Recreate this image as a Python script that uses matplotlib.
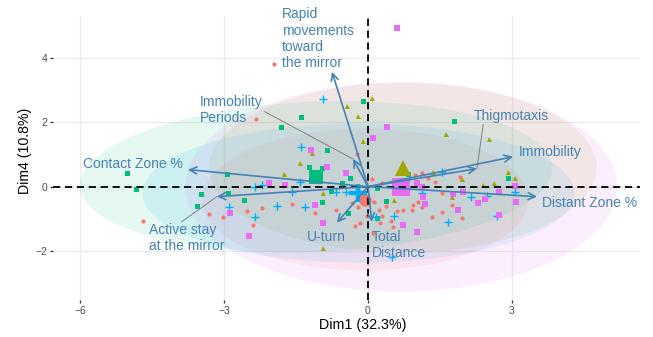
import matplotlib
matplotlib.use("Agg")
import matplotlib.pyplot as plt
from matplotlib.patches import Ellipse

plt.rcParams['font.family'] = ['Liberation Sans', 'DejaVu Sans']

# ---------------- data ----------------
groups = ["red", "olive", "green", "blue", "magenta"]
group_colors = {"red": "#F8766D", "olive": "#A3A500", "green": "#00BF7D",
                "blue": "#00B0F6", "magenta": "#E76BF3"}

red_x = [-1.96, -2.33, -4.69, -3.31, -3.02, -2.52, -2.21, -2.40, -1.58, -1.10, -0.67, -0.27,
         -0.33, -0.17, -0.21, 0.13, -0.02, 0.23, 0.29, 0.48, 0.38, 0.60, -0.23, 0.08, 0.29,
         0.73, 0.98, 1.13, 0.92, 1.13, 1.33, 1.25, 1.04, 0.52, 0.10, 1.54, 1.75, 1.96, 1.92,
         1.54, 0.94, 0.25, 1.40]
red_y = [3.82, 2.11, -1.06, -0.84, -0.93, -0.75, -0.65, -1.18, -0.53, -0.81, -0.71, -1.21,
         -0.50, -1.12, -0.62, -0.47, -0.90, -0.71, -0.90, -1.06, -0.59, -0.75, 1.03, 0.25, 0.12,
         -0.71, 0.37, 0.44, -0.71, -0.62, -0.93, 0.28, -0.47, -1.24, -1.43, -0.78, -0.56, -0.96, 0.31,
         -0.19, -0.56, -1.12, 0.16]

olive_x = [0.08, -0.44, -0.21, -0.10, -1.42, -1.17, -1.75, -0.94, -0.94, 0.54, 1.35, 1.63,
           2.52, 1.96, 2.40, 2.63, 2.92, 3.06, 1.75]
olive_y = [2.77, 2.52, 2.21, 1.43, 0.75, 1.06, 0.40, -1.90, -0.19, -0.40, 0.47, 1.65,
           1.49, 0.25, 0.06, 0.12, 0.47, 0.28, -0.31]

green_x = [-1.40, -1.81, -0.85, -1.23, -0.96, -0.10, 1.79, -5.02, -4.83, -2.94, -3.48, -3.56,
           -2.92, -2.58, -0.96, -0.54, -0.38, -0.42, -0.77, 0.19, 0.38, 0.83, 0.19, 2.92]
green_y = [2.18, 1.87, 1.15, 0.62, 0.59, 2.67, 2.05, 0.44, -0.06, 0.40, -0.22, -0.59,
           -0.19, -0.40, -0.47, 0.12, 0.28, -0.81, -0.12, -0.03, -0.44, 0.40, -0.96, 0.28]

blue_x = [-0.94, -1.40, -2.21, -2.35, -1.42, -1.58, -2.90, -2.35, -1.90, -1.31, -0.67, -0.46,
          1.13, 0.54, 0.17, 1.67, 2.15, 2.48, 2.69, 3.06, 0.50, 1.54]
blue_y = [2.74, 1.24, 0.06, 0.00, 0.16, -0.16, -0.62, -0.93, -0.59, -0.62, -0.16, -0.16,
          -0.19, -0.90, -0.93, -1.09, -0.31, -0.28, -0.90, -0.16, -2.18, 0.47]

magenta_x = [0.60, 0.40, 0.10, -1.19, -0.85, -0.46, -2.06, -1.73, -2.88, -2.48, -1.10, -0.94,
             1.02, 1.13, 1.15, 1.19, 0.73, 1.02, 1.88, 1.77, 1.98, 2.29, 2.44, 2.73, 2.73, 3.08, 3.06]
magenta_y = [4.94, 1.87, 1.52, 1.15, 0.62, 0.44, 0.12, 0.06, -0.81, -1.52, -0.56, -1.12,
             0.12, 0.00, -0.31, -0.53, -1.18, -1.40, -0.71, -0.22, -0.16, -0.50, -0.37, -0.16, -0.87, -0.47, 0.03]

points = {"red": (red_x, red_y), "olive": (olive_x, olive_y), "green": (green_x, green_y),
          "blue": (blue_x, blue_y), "magenta": (magenta_x, magenta_y)}

# group means
mean_x = {"red": -0.06, "olive": 0.73, "green": -1.08, "blue": -0.20, "magenta": 0.69}
mean_y = {"red": -0.40, "olive": 0.59, "green": 0.31, "blue": -0.20, "magenta": 0.00}

# concentration ellipses: semi-axes (x, y) and tilt (deg)
ell_a = {"red": 3.40, "olive": 4.04, "green": 4.93, "blue": 4.50, "magenta": 4.50}
ell_b = {"red": 2.20, "olive": 2.64, "green": 2.33, "blue": 2.16, "magenta": 3.26}
ell_angle = {"red": 0, "olive": 0, "green": 4, "blue": 0, "magenta": 0}

# variables (arrows)
var_names = ["Rapid\nmovements\ntoward\nthe mirror", "Immobility\nPeriods", "Contact Zone %",
             "Active stay\nat the mirror", "U-turn", "Total\nDistance", "Distant Zone %",
             "Immobility", "Thigmotaxis"]
var_x = [-0.75, -0.31, -3.75, -3.15, -0.65, 0.08, 3.52, 3.02, 2.27]
var_y = [3.57, 0.86, 0.53, -0.31, -1.12, -1.09, -0.31, 0.93, 0.56]
lab_x = [-1.79, -3.50, -5.94, -4.56, -1.27, 0.08, 3.63, 3.15, 2.21]
lab_y = [4.60, 2.39, 0.71, -1.59, -1.55, -1.82, -0.50, 1.09, 2.21]
# repel segments (label side start point) for labels far from arrow tips
seg_start = {1: (-2.15, 2.33), 3: (-3.88, -1.09), 8: (2.40, 1.93)}

markers = {"red": "o", "olive": "^", "green": "s", "blue": "+", "magenta": "s"}
msize = {"red": 3.0, "olive": 3.6, "green": 3.6, "blue": 6, "magenta": 4.2}
big_size = {"red": 9, "olive": 12, "green": 10, "blue": 13, "magenta": 13}

# ---------------- plot ----------------
fig = plt.figure(figsize=(6.53, 3.37), dpi=100)
ax = fig.add_axes([53/653, 1-300/337, (640-53)/653, (300-16)/337])
ax.set_xlim(-6.5625, 5.667)
ax.set_ylim(-3.523, 5.306)

for spine in ax.spines.values():
    spine.set_visible(False)
ax.set_xticks([-6, -3, 0, 3])
ax.set_yticks([-2, 0, 2, 4])
ax.grid(True, color="#EBEBEB", lw=0.9, zorder=0)
ax.set_axisbelow(True)
ax.tick_params(axis="both", length=2.2, width=0.9, color="#333333",
               labelsize=7.5, labelcolor="#4D4D4D", pad=2)

for g in groups:
    e = Ellipse((mean_x[g], mean_y[g]), 2*ell_a[g], 2*ell_b[g], angle=ell_angle[g],
                facecolor=group_colors[g], alpha=0.1, edgecolor="none", zorder=1)
    ax.add_patch(e)

for g in groups:
    xs, ys = points[g]
    if markers[g] == "+":
        ax.plot(xs, ys, linestyle="none", marker="+", ms=msize[g], mew=1.0,
                color=group_colors[g], zorder=3)
    else:
        ax.plot(xs, ys, linestyle="none", marker=markers[g], ms=msize[g], mew=0,
                color=group_colors[g], zorder=3)

for g in groups:
    if markers[g] == "+":
        ax.plot([mean_x[g]], [mean_y[g]], marker="+", ms=big_size[g], mew=3.2,
                color=group_colors[g], zorder=4, linestyle="none")
    else:
        ax.plot([mean_x[g]], [mean_y[g]], marker=markers[g], ms=big_size[g], mew=0,
                color=group_colors[g], zorder=4, linestyle="none")

ax.axhline(0, color="black", lw=1.3, linestyle=(0, (4, 2.6)), zorder=5)
ax.axvline(0, color="black", lw=1.3, linestyle=(0, (4, 2.6)), zorder=5)

arrow_col = "#4682B4"
for i, name in enumerate(var_names):
    ax.annotate("", xy=(var_x[i], var_y[i]), xytext=(0, 0),
                arrowprops=dict(arrowstyle="->,head_length=0.5,head_width=0.25",
                                color=arrow_col, lw=1.2, shrinkA=0, shrinkB=0),
                zorder=6)
    if i in seg_start:
        sx, sy = seg_start[i]
        ax.plot([sx, var_x[i]], [sy, var_y[i]], color="#808080", lw=0.7, zorder=6)
    ax.text(lab_x[i], lab_y[i], name, color=arrow_col, fontsize=10, ha="left",
            va="center", linespacing=1.2, zorder=7)

ax.set_xlabel("Dim1 (32.3%)", fontsize=10.3, color="black")
ax.set_ylabel("Dim4 (10.8%)", fontsize=10.2, color="black")
ax.xaxis.set_label_coords((363 - 53) / (640 - 53), -(325 - 300) / (300 - 16))
ax.yaxis.set_label_coords(-(53 - 25) / (640 - 53), (300 - 151) / (300 - 16))
ax.xaxis.label.set_va("center")
ax.yaxis.label.set_va("center")

fig.savefig("out.png", dpi=100)
